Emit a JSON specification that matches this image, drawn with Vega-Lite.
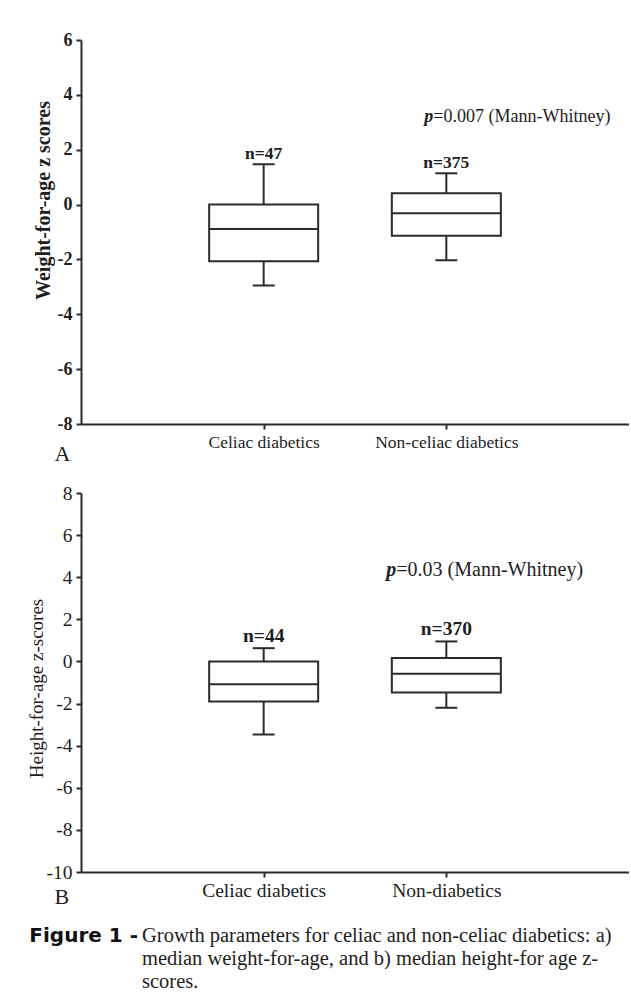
{
  "$schema": "https://vega.github.io/schema/vega-lite/v6.json",
  "background": "white",
  "padding": {"left": 27, "top": 31, "right": 0, "bottom": 0},
  "spacing": 19,
  "config": {
    "font": "Liberation Serif",
    "view": {"stroke": null},
    "axis": {
      "grid": false,
      "domainColor": "#2b2b2b",
      "domainWidth": 2,
      "tickColor": "#2b2b2b",
      "tickWidth": 2,
      "tickSize": 5,
      "labelColor": "#1e1e1e",
      "titleColor": "#1e1e1e",
      "labelFont": "Liberation Serif",
      "titleFont": "Liberation Serif"
    },
    "text": {"font": "Liberation Serif", "color": "#1e1e1e"}
  },
  "vconcat": [
    {
      "width": 548,
      "height": 384,
      "data": {"values": [
        {"group": "Celiac diabetics", "lower": -2.95, "q1": -2.07, "median": -0.89, "q3": 0.0, "upper": 1.47, "n": "n=47"},
        {"group": "Non-celiac diabetics", "lower": -2.03, "q1": -1.14, "median": -0.32, "q3": 0.41, "upper": 1.14, "n": "n=375"}
      ]},
      "encoding": {
        "x": {
          "field": "group", "type": "nominal",
          "scale": {"type": "point", "padding": 1, "domain": ["Celiac diabetics", "Non-celiac diabetics"]},
          "axis": {"title": "A", "labelAngle": 0, "labelFontSize": 17.5, "labelPadding": 4,
                   "titleFontSize": 22, "titleFontWeight": "normal", "titleAlign": "left",
                   "titleX": -27, "titleY": 36, "titleBaseline": "alphabetic"}
        }
      },
      "layer": [
        {
          "mark": {"type": "rule", "color": "#2b2b2b", "strokeWidth": 2},
          "encoding": {
            "y": {"field": "lower", "type": "quantitative",
                  "scale": {"domain": [-8, 6], "nice": false, "zero": false},
                  "axis": {"title": "Weight-for-age z scores", "values": [-8, -6, -4, -2, 0, 2, 4, 6],
                           "labelExpr": "'' + datum.value", "labelFontSize": 18, "labelFontWeight": "bold",
                           "labelPadding": 4, "titleFontSize": 20, "titleFontWeight": "bold",
                           "titlePadding": 4, "titleY": 160}},
            "y2": {"field": "upper"}
          }
        },
        {
          "mark": {"type": "bar", "fill": "white", "stroke": "#2b2b2b", "strokeWidth": 2, "size": 109},
          "encoding": {"y": {"field": "q1", "type": "quantitative"}, "y2": {"field": "q3"}}
        },
        {
          "mark": {"type": "tick", "color": "#2b2b2b", "opacity": 1, "size": 109, "thickness": 2},
          "encoding": {"y": {"field": "median", "type": "quantitative"}}
        },
        {
          "mark": {"type": "tick", "color": "#2b2b2b", "opacity": 1, "size": 22, "thickness": 2},
          "encoding": {"y": {"field": "upper", "type": "quantitative"}}
        },
        {
          "mark": {"type": "tick", "color": "#2b2b2b", "opacity": 1, "size": 22, "thickness": 2},
          "encoding": {"y": {"field": "lower", "type": "quantitative"}}
        },
        {
          "mark": {"type": "text", "baseline": "bottom", "dy": -1, "fontSize": 17.5, "fontWeight": "bold"},
          "encoding": {"y": {"field": "upper", "type": "quantitative"}, "text": {"field": "n"}}
        },
        {
          "data": {"values": [{"p": "p", "rest": "=0.007 (Mann-Whitney)"}]},
          "mark": {"type": "text", "align": "left", "baseline": "middle", "dx": -22, "fontSize": 18, "fontStyle": "italic", "fontWeight": "bold"},
          "encoding": {"x": {"datum": "Non-celiac diabetics"}, "y": {"datum": 3.2}, "text": {"field": "p"}}
        },
        {
          "data": {"values": [{"p": "p", "rest": "=0.007 (Mann-Whitney)"}]},
          "mark": {"type": "text", "align": "left", "baseline": "middle", "dx": -13, "fontSize": 18},
          "encoding": {"x": {"datum": "Non-celiac diabetics"}, "y": {"datum": 3.2}, "text": {"field": "rest"}}
        }
      ]
    },
    {
      "width": 548,
      "height": 379,
      "data": {"values": [
        {"group": "Celiac diabetics", "lower": -3.47, "q1": -1.9, "median": -1.08, "q3": 0.0, "upper": 0.63, "n": "n=44"},
        {"group": "Non-diabetics", "lower": -2.2, "q1": -1.47, "median": -0.59, "q3": 0.16, "upper": 0.95, "n": "n=370"}
      ]},
      "encoding": {
        "x": {
          "field": "group", "type": "nominal",
          "scale": {"type": "point", "padding": 1, "domain": ["Celiac diabetics", "Non-diabetics"]},
          "axis": {"title": "B", "labelAngle": 0, "labelFontSize": 19.5, "labelPadding": 4,
                   "titleFontSize": 22, "titleFontWeight": "normal", "titleAlign": "left",
                   "titleX": -27, "titleY": 31, "titleBaseline": "alphabetic"}
        }
      },
      "layer": [
        {
          "mark": {"type": "rule", "color": "#2b2b2b", "strokeWidth": 2},
          "encoding": {
            "y": {"field": "lower", "type": "quantitative",
                  "scale": {"domain": [-10, 8], "nice": false, "zero": false},
                  "axis": {"title": "Height-for-age z-scores", "values": [-10, -8, -6, -4, -2, 0, 2, 4, 6, 8],
                           "labelExpr": "'' + datum.value", "labelFontSize": 19.5, "labelFontWeight": "normal",
                           "labelPadding": 4, "titleFontSize": 19, "titleFontWeight": "normal",
                           "titlePadding": 0, "titleY": 195}},
            "y2": {"field": "upper"}
          }
        },
        {
          "mark": {"type": "bar", "fill": "white", "stroke": "#2b2b2b", "strokeWidth": 2, "size": 109},
          "encoding": {"y": {"field": "q1", "type": "quantitative"}, "y2": {"field": "q3"}}
        },
        {
          "mark": {"type": "tick", "color": "#2b2b2b", "opacity": 1, "size": 109, "thickness": 2},
          "encoding": {"y": {"field": "median", "type": "quantitative"}}
        },
        {
          "mark": {"type": "tick", "color": "#2b2b2b", "opacity": 1, "size": 22, "thickness": 2},
          "encoding": {"y": {"field": "upper", "type": "quantitative"}}
        },
        {
          "mark": {"type": "tick", "color": "#2b2b2b", "opacity": 1, "size": 22, "thickness": 2},
          "encoding": {"y": {"field": "lower", "type": "quantitative"}}
        },
        {
          "mark": {"type": "text", "baseline": "bottom", "dy": -2, "fontSize": 19.5, "fontWeight": "bold"},
          "encoding": {"y": {"field": "upper", "type": "quantitative"}, "text": {"field": "n"}}
        },
        {
          "data": {"values": [{"p": "p", "rest": "=0.03 (Mann-Whitney)"}]},
          "mark": {"type": "text", "align": "left", "baseline": "middle", "dx": -60, "fontSize": 20, "fontStyle": "italic", "fontWeight": "bold"},
          "encoding": {"x": {"datum": "Non-diabetics"}, "y": {"datum": 4.32}, "text": {"field": "p"}}
        },
        {
          "data": {"values": [{"p": "p", "rest": "=0.03 (Mann-Whitney)"}]},
          "mark": {"type": "text", "align": "left", "baseline": "middle", "dx": -50, "fontSize": 20},
          "encoding": {"x": {"datum": "Non-diabetics"}, "y": {"datum": 4.32}, "text": {"field": "rest"}}
        }
      ]
    },
    {
      "width": 548,
      "height": 46,
      "data": {"values": [
        {"role": "label", "line": 1, "text": "Figure 1 -"},
        {"role": "body", "line": 1, "text": "Growth parameters for celiac and non-celiac diabetics: a)"},
        {"role": "body", "line": 2, "text": "median weight-for-age, and b) median height-for age z-"},
        {"role": "body", "line": 3, "text": "scores."}
      ]},
      "encoding": {
        "x": {"field": "role", "type": "nominal", "scale": {"type": "point", "domain": ["label", "body"], "range": [55, 63]}, "axis": null},
        "y": {"field": "line", "type": "ordinal", "scale": {"type": "point", "domain": [1, 2, 3], "padding": 0}, "axis": null},
        "text": {"field": "text"}
      },
      "layer": [
        {
          "transform": [{"filter": "datum.role === 'label'"}],
          "mark": {"type": "text", "align": "right", "baseline": "alphabetic", "font": "DejaVu Sans", "fontWeight": "bold", "fontSize": 20, "color": "#111"}
        },
        {
          "transform": [{"filter": "datum.role === 'body'"}],
          "mark": {"type": "text", "align": "left", "baseline": "alphabetic", "fontSize": 20.5, "color": "#1e1e1e"}
        }
      ]
    }
  ]
}
